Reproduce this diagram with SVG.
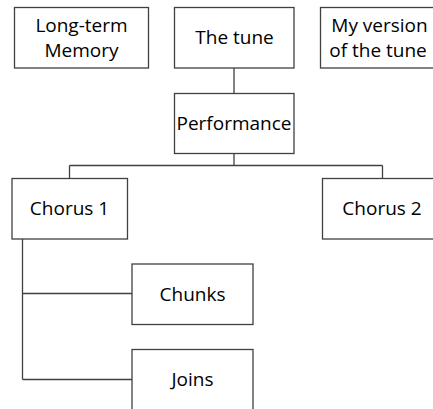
<svg xmlns="http://www.w3.org/2000/svg" width="433" height="409" viewBox="0 0 433 409">
  <style>
    .box { fill: #ffffff; stroke: #404040; stroke-width: 1.3; }
    .lbl { font-family: "Open Sans", "Liberation Sans", sans-serif; font-size: 19px; fill: #000000; text-anchor: middle; }
    .link { fill: none; stroke: #404040; stroke-width: 1.3; }
  </style>
  <rect width="433" height="409" fill="#ffffff"/>

  <!-- connectors -->
  <g id="connectors">
    <path class="link" d="M234,68 V93"/>
    <path class="link" d="M234,153 V165.5 M69.5,165.5 H382.5 M69.5,165.5 V178 M382.5,165.5 V178"/>
    <path class="link" d="M22.5,239 V379.5 M22.5,293.5 H132 M22.5,379.5 H132"/>
  </g>

  <g id="long-term-memory">
    <rect class="box" x="14.5" y="7.5" width="134" height="60.5"/>
    <text class="lbl" x="81.5" y="32">Long-term</text>
    <text class="lbl" x="81.5" y="57">Memory</text>
  </g>

  <g id="the-tune">
    <rect class="box" x="174.5" y="7.5" width="119.5" height="60.5"/>
    <text class="lbl" x="234.5" y="43.5">The tune</text>
  </g>

  <g id="my-version">
    <rect class="box" x="320.5" y="7.5" width="120" height="60.5"/>
    <text class="lbl" x="379.5" y="32">My version</text>
    <text class="lbl" x="378" y="57">of the tune</text>
  </g>

  <g id="performance">
    <rect class="box" x="174.5" y="93.5" width="119.5" height="60"/>
    <text class="lbl" x="234" y="130">Performance</text>
  </g>

  <g id="chorus-1">
    <rect class="box" x="12" y="178.5" width="115.5" height="60.5"/>
    <text class="lbl" x="69.5" y="215">Chorus 1</text>
  </g>

  <g id="chorus-2">
    <rect class="box" x="322.5" y="178.5" width="120" height="60.5"/>
    <text class="lbl" x="382" y="215">Chorus 2</text>
  </g>

  <g id="chunks">
    <rect class="box" x="132" y="264" width="121" height="60.5"/>
    <text class="lbl" x="192.5" y="301">Chunks</text>
  </g>

  <g id="joins">
    <rect class="box" x="132" y="349.5" width="121" height="70"/>
    <text class="lbl" x="192.5" y="386">Joins</text>
  </g>
</svg>
